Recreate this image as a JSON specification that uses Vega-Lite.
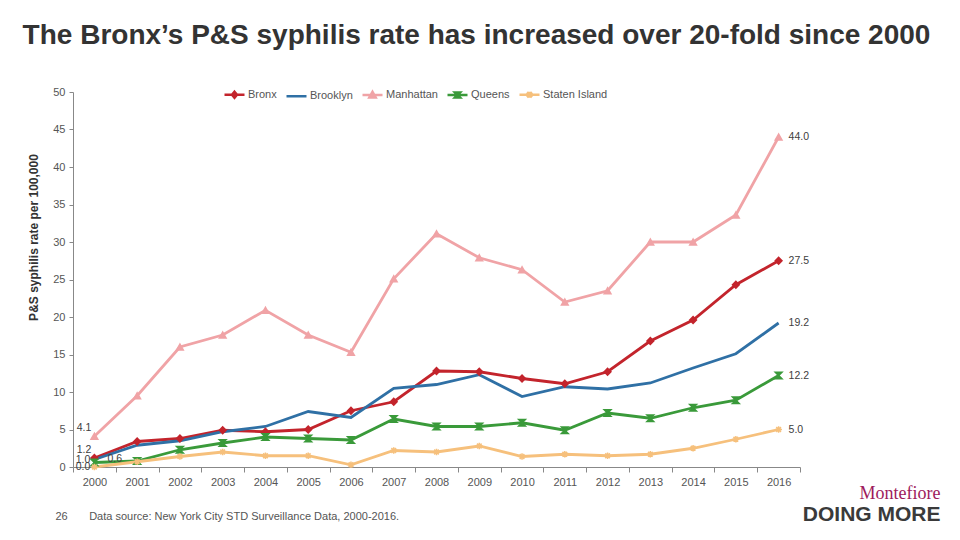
{
  "$schema": "https://vega.github.io/schema/vega-lite/v6.json",
  "autosize": {"type": "none"},
  "width": 727,
  "height": 375,
  "padding": {"left": 73, "top": 92, "right": 160, "bottom": 73},
  "background": "white",
  "config": {"font": "Liberation Sans", "view": {"stroke": null}},
  "title": {
    "text": "The Bronx’s P&S syphilis rate has increased over 20-fold since 2000",
    "anchor": "middle", "frame": "group", "dx": 40, "offset": 33,
    "font": "Liberation Sans", "fontSize": 28, "fontWeight": "bold", "color": "#333333"
  },
  "data": {"values": [
    {"borough": "Bronx", "year": 2000, "rate": 1.2}, {"borough": "Bronx", "year": 2001, "rate": 3.4}, {"borough": "Bronx", "year": 2002, "rate": 3.8}, {"borough": "Bronx", "year": 2003, "rate": 4.9}, {"borough": "Bronx", "year": 2004, "rate": 4.7}, {"borough": "Bronx", "year": 2005, "rate": 5.0}, {"borough": "Bronx", "year": 2006, "rate": 7.5}, {"borough": "Bronx", "year": 2007, "rate": 8.7}, {"borough": "Bronx", "year": 2008, "rate": 12.8}, {"borough": "Bronx", "year": 2009, "rate": 12.7}, {"borough": "Bronx", "year": 2010, "rate": 11.8}, {"borough": "Bronx", "year": 2011, "rate": 11.1}, {"borough": "Bronx", "year": 2012, "rate": 12.7}, {"borough": "Bronx", "year": 2013, "rate": 16.8}, {"borough": "Bronx", "year": 2014, "rate": 19.6}, {"borough": "Bronx", "year": 2015, "rate": 24.3}, {"borough": "Bronx", "year": 2016, "rate": 27.5},
    {"borough": "Brooklyn", "year": 2000, "rate": 1.0}, {"borough": "Brooklyn", "year": 2001, "rate": 2.9}, {"borough": "Brooklyn", "year": 2002, "rate": 3.5}, {"borough": "Brooklyn", "year": 2003, "rate": 4.7}, {"borough": "Brooklyn", "year": 2004, "rate": 5.4}, {"borough": "Brooklyn", "year": 2005, "rate": 7.4}, {"borough": "Brooklyn", "year": 2006, "rate": 6.6}, {"borough": "Brooklyn", "year": 2007, "rate": 10.5}, {"borough": "Brooklyn", "year": 2008, "rate": 11.0}, {"borough": "Brooklyn", "year": 2009, "rate": 12.3}, {"borough": "Brooklyn", "year": 2010, "rate": 9.4}, {"borough": "Brooklyn", "year": 2011, "rate": 10.7}, {"borough": "Brooklyn", "year": 2012, "rate": 10.4}, {"borough": "Brooklyn", "year": 2013, "rate": 11.2}, {"borough": "Brooklyn", "year": 2014, "rate": 13.2}, {"borough": "Brooklyn", "year": 2015, "rate": 15.1}, {"borough": "Brooklyn", "year": 2016, "rate": 19.2},
    {"borough": "Manhattan", "year": 2000, "rate": 4.1}, {"borough": "Manhattan", "year": 2001, "rate": 9.5}, {"borough": "Manhattan", "year": 2002, "rate": 16.0}, {"borough": "Manhattan", "year": 2003, "rate": 17.6}, {"borough": "Manhattan", "year": 2004, "rate": 20.9}, {"borough": "Manhattan", "year": 2005, "rate": 17.6}, {"borough": "Manhattan", "year": 2006, "rate": 15.3}, {"borough": "Manhattan", "year": 2007, "rate": 25.1}, {"borough": "Manhattan", "year": 2008, "rate": 31.1}, {"borough": "Manhattan", "year": 2009, "rate": 27.9}, {"borough": "Manhattan", "year": 2010, "rate": 26.3}, {"borough": "Manhattan", "year": 2011, "rate": 22.0}, {"borough": "Manhattan", "year": 2012, "rate": 23.5}, {"borough": "Manhattan", "year": 2013, "rate": 30.0}, {"borough": "Manhattan", "year": 2014, "rate": 30.0}, {"borough": "Manhattan", "year": 2015, "rate": 33.6}, {"borough": "Manhattan", "year": 2016, "rate": 44.0},
    {"borough": "Queens", "year": 2000, "rate": 0.6}, {"borough": "Queens", "year": 2001, "rate": 0.8}, {"borough": "Queens", "year": 2002, "rate": 2.3}, {"borough": "Queens", "year": 2003, "rate": 3.2}, {"borough": "Queens", "year": 2004, "rate": 4.0}, {"borough": "Queens", "year": 2005, "rate": 3.8}, {"borough": "Queens", "year": 2006, "rate": 3.6}, {"borough": "Queens", "year": 2007, "rate": 6.4}, {"borough": "Queens", "year": 2008, "rate": 5.4}, {"borough": "Queens", "year": 2009, "rate": 5.4}, {"borough": "Queens", "year": 2010, "rate": 5.9}, {"borough": "Queens", "year": 2011, "rate": 4.9}, {"borough": "Queens", "year": 2012, "rate": 7.2}, {"borough": "Queens", "year": 2013, "rate": 6.5}, {"borough": "Queens", "year": 2014, "rate": 7.9}, {"borough": "Queens", "year": 2015, "rate": 8.9}, {"borough": "Queens", "year": 2016, "rate": 12.2},
    {"borough": "Staten Island", "year": 2000, "rate": 0.0}, {"borough": "Staten Island", "year": 2001, "rate": 0.7}, {"borough": "Staten Island", "year": 2002, "rate": 1.4}, {"borough": "Staten Island", "year": 2003, "rate": 2.0}, {"borough": "Staten Island", "year": 2004, "rate": 1.5}, {"borough": "Staten Island", "year": 2005, "rate": 1.5}, {"borough": "Staten Island", "year": 2006, "rate": 0.3}, {"borough": "Staten Island", "year": 2007, "rate": 2.2}, {"borough": "Staten Island", "year": 2008, "rate": 2.0}, {"borough": "Staten Island", "year": 2009, "rate": 2.8}, {"borough": "Staten Island", "year": 2010, "rate": 1.4}, {"borough": "Staten Island", "year": 2011, "rate": 1.7}, {"borough": "Staten Island", "year": 2012, "rate": 1.5}, {"borough": "Staten Island", "year": 2013, "rate": 1.7}, {"borough": "Staten Island", "year": 2014, "rate": 2.5}, {"borough": "Staten Island", "year": 2015, "rate": 3.7}, {"borough": "Staten Island", "year": 2016, "rate": 5.0}
  ]},
  "layer": [
    {
      "encoding": {
        "x": {
          "field": "year", "type": "ordinal",
          "scale": {"type": "band", "paddingInner": 0, "paddingOuter": 0},
          "bandPosition": 0.5,
          "axis": {
            "title": "26\u00a0\u00a0\u00a0\u00a0\u00a0\u00a0\u00a0Data source: New York City STD Surveillance Data, 2000-2016.",
            "titleAnchor": "start", "titleAlign": "left", "titleBaseline": "middle",
            "titleX": -18, "titleY": 49,
            "titleFont": "Liberation Sans", "titleFontSize": 11, "titleFontWeight": "normal", "titleColor": "#555555",
            "tickBand": "extent", "labelAngle": 0, "labelFontSize": 11, "labelColor": "#555555", "labelPadding": 4,
            "domainColor": "#888888", "tickColor": "#888888", "tickSize": 5, "grid": false
          }
        },
        "y": {
          "field": "rate", "type": "quantitative",
          "scale": {"domain": [0, 50], "nice": false},
          "axis": {
            "title": "P&S syphilis rate per 100,000",
            "values": [0, 5, 10, 15, 20, 25, 30, 35, 40, 45, 50],
            "grid": false, "domainColor": "#888888", "tickColor": "#888888", "tickSize": 4,
            "labelFontSize": 11, "labelColor": "#555555", "labelPadding": 4,
            "titleFontSize": 12, "titleFontWeight": "bold", "titleColor": "#333333",
            "titleY": 145, "titlePadding": 12
          }
        }
      },
      "layer": [
        {
          "mark": {"type": "line", "strokeWidth": 2.8},
          "encoding": {
            "color": {
              "field": "borough", "type": "nominal",
              "scale": {"domain": ["Bronx", "Brooklyn", "Manhattan", "Queens", "Staten Island"], "range": ["#c3242c", "#2f70a5", "#f0a3a6", "#3a9a3a", "#f6c07c"]},
              "legend": {
                "title": null, "orient": "none", "direction": "horizontal", "columns": 5,
                "legendX": 150, "legendY": -9,
                "symbolType": "stroke", "symbolSize": 400, "symbolStrokeWidth": 2.5,
                "labelFontSize": 11, "labelColor": "#555555", "labelOffset": 2, "columnPadding": 4,
                "encode": {
                  "symbols": {"update": {
                    "shape": {"signal": "datum.value === 'Bronx' ? 'M-1,0L1,0M0,-0.3L0.25,0L0,0.3L-0.25,0Z' : datum.value === 'Manhattan' ? 'M-1,0L1,0M0,-0.32L0.32,0.25L-0.32,0.25Z' : datum.value === 'Queens' ? 'M-1,0L1,0M-0.25,-0.25L0.25,-0.25L-0.25,0.25L0.25,0.25Z' : datum.value === 'Staten Island' ? 'M-1,0L1,0M0,-0.3L0,0.3M-0.25,-0.25L0.25,0.25M-0.25,0.25L0.25,-0.25' : 'M-1,0L1,0'"},
                    "fill": {"scale": "color", "field": "value"}
                  }}
                }
              }
            }
          }
        },
        {
          "transform": [{"filter": "datum.borough !== 'Brooklyn'"}],
          "mark": {"type": "point", "filled": true, "size": 45, "strokeWidth": 1.5, "opacity": 1},
          "encoding": {
            "shape": {
              "field": "borough", "type": "nominal",
              "scale": {"domain": ["Bronx", "Manhattan", "Queens", "Staten Island"], "range": ["diamond", "triangle-up", "M-1,-1L1,-1L-1,1L1,1Z", "M-1,0L1,0M0,-1L0,1M-0.7,-0.7L0.7,0.7M-0.7,0.7L0.7,-0.7"]},
              "legend": null
            },
            "fill": {
              "field": "borough", "type": "nominal",
              "scale": {"domain": ["Bronx", "Manhattan", "Queens", "Staten Island"], "range": ["#c3242c", "#f0a3a6", "#3a9a3a", "#f6c07c"]},
              "legend": null
            },
            "stroke": {
              "field": "borough", "type": "nominal",
              "scale": {"domain": ["Bronx", "Manhattan", "Queens", "Staten Island"], "range": ["#c3242c", "#f0a3a6", "#3a9a3a", "#f6c07c"]},
              "legend": null
            }
          }
        },
        {
          "transform": [{"filter": "datum.year === 2016"}],
          "mark": {"type": "text", "align": "left", "baseline": "middle", "dx": 10, "fontSize": 10.5, "color": "#404040"},
          "encoding": {"text": {"field": "rate", "type": "quantitative", "format": ".1f"}}
        },
        {
          "transform": [{"filter": "datum.year === 2000 && (datum.borough === 'Bronx' || datum.borough === 'Manhattan')"}],
          "mark": {"type": "text", "align": "right", "baseline": "middle", "dx": -3, "dy": -8, "fontSize": 10.5, "color": "#404040"},
          "encoding": {"text": {"field": "rate", "type": "quantitative", "format": ".1f"}}
        },
        {
          "transform": [{"filter": "datum.year === 2000 && (datum.borough === 'Brooklyn' || datum.borough === 'Staten Island')"}],
          "mark": {"type": "text", "align": "right", "baseline": "middle", "dx": -4, "dy": 0, "fontSize": 10.5, "color": "#404040"},
          "encoding": {"text": {"field": "rate", "type": "quantitative", "format": ".1f"}}
        },
        {
          "transform": [{"filter": "datum.year === 2000 && datum.borough === 'Queens'"}],
          "mark": {"type": "text", "align": "left", "baseline": "middle", "dx": 13, "dy": -4, "fontSize": 10.5, "color": "#404040"},
          "encoding": {"text": {"field": "rate", "type": "quantitative", "format": ".1f"}}
        }
      ]
    },
    {
      "mark": {"type": "point", "opacity": 0},
      "encoding": {
        "x": {
          "field": "year", "type": "ordinal",
          "axis": {
            "orient": "top", "title": "Montefiore", "labels": false, "ticks": false, "domain": false,
            "titleX": 867, "titleY": 401, "titleAlign": "right", "titleBaseline": "middle", "titleAnchor": null,
            "titleFont": "Liberation Serif", "titleFontSize": 18, "titleFontWeight": "normal", "titleColor": "#9e1a5c"
          }
        },
        "y": {
          "field": "rate", "type": "quantitative",
          "axis": {
            "orient": "right", "title": "DOING MORE", "labels": false, "ticks": false, "domain": false, "grid": false,
            "titleAngle": 0, "titleX": 140, "titleY": 422, "titleAlign": "right", "titleBaseline": "middle",
            "titleFont": "Liberation Sans", "titleFontSize": 21, "titleFontWeight": "bold", "titleColor": "#3a3a3a"
          }
        }
      }
    }
  ],
  "resolve": {"scale": {"x": "independent", "y": "independent"}}
}
